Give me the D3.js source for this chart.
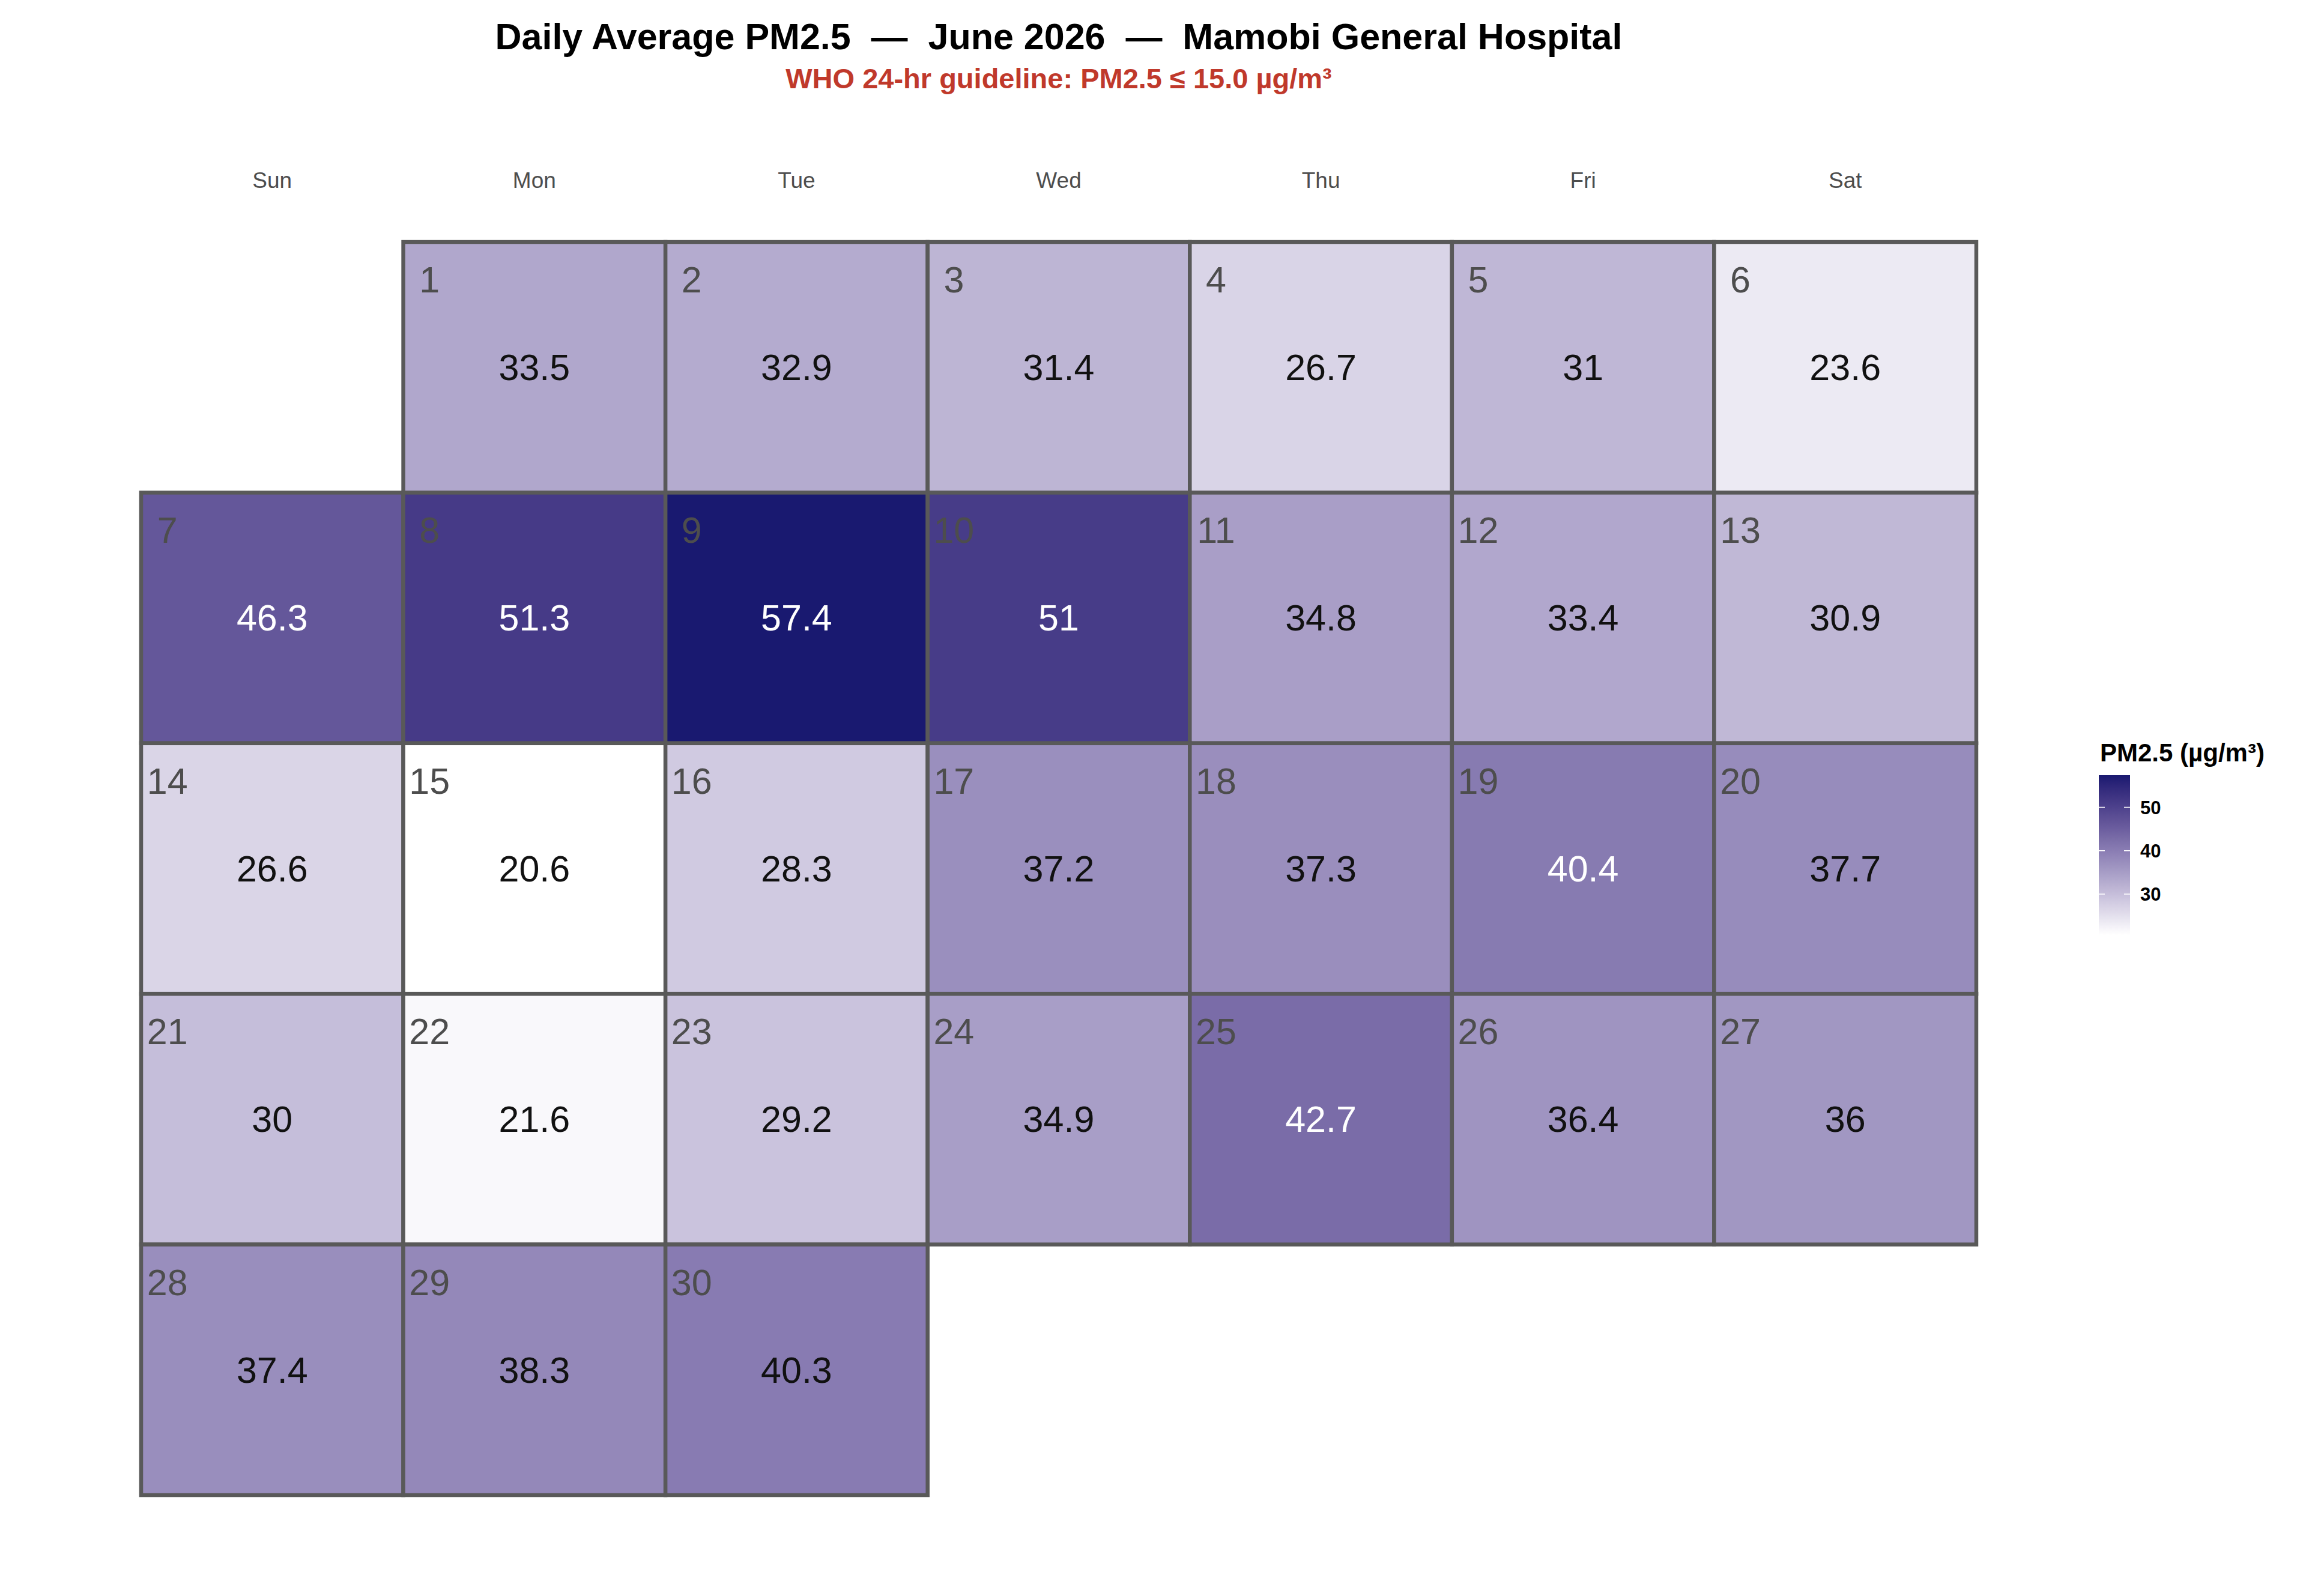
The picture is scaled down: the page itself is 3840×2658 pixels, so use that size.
<!DOCTYPE html>
<html>
<head>
<meta charset="utf-8">
<script src="https://cdn.jsdelivr.net/npm/d3@7"></script>
<style>
  body { margin: 0; background: #fff; }
  text { font-family: "Liberation Sans", Arial, Helvetica, sans-serif; }
</style>
</head>
<body>
<svg id="chart"></svg>
<script>
// June 2026 daily averages, day 1..30
var year = 2026, month = 5;
var pm25 = [33.5, 32.9, 31.4, 26.7, 31.0, 23.6,
            46.3, 51.3, 57.4, 51.0, 34.8, 33.4, 30.9,
            26.6, 20.6, 28.3, 37.2, 37.3, 40.4, 37.7,
            30.0, 21.6, 29.2, 34.9, 42.7, 36.4, 36.0,
            37.4, 38.3, 40.3];
var weekdays = ["Sun", "Mon", "Tue", "Wed", "Thu", "Fri", "Sat"];
var legendTicks = [30, 40, 50];
var whiteTextAbove = 40.35;

var W = 3840, H = 2658;
var svg = d3.select("#chart").attr("width", W).attr("height", H);

var days = pm25.map(function(v, i){
	var date = new Date(year, month, i + 1);
	return {
		day: i + 1,
		value: v,
		dow: weekdays[date.getDay()],
		week: d3.timeWeek.count(d3.timeMonth(date), date)
	};
});
var nWeeks = d3.max(days, function(d){ return d.week; }) + 1;

var x = d3.scaleBand().domain(weekdays).range([235, 3291]);
var y = d3.scaleBand().domain(d3.range(nWeeks)).range([403, 2490]);

var ext = d3.extent(pm25);
var color = d3.scaleSequential()
	.domain(ext)
	.interpolator(d3.interpolateLab("#ffffff", "#191970"));

// titles
var cx = (x.range()[0] + x.range()[1]) / 2;
svg.append("text")
	.attr("x", cx).attr("y", 82)
	.attr("text-anchor", "middle")
	.attr("font-size", 61).attr("font-weight", "bold")
	.style("white-space", "pre")
	.text("Daily Average PM2.5  \u2014  June 2026  \u2014  Mamobi General Hospital");
svg.append("text")
	.attr("x", cx).attr("y", 147)
	.attr("text-anchor", "middle")
	.attr("font-size", 47).attr("font-weight", "bold")
	.attr("fill", "#c0392b")
	.text("WHO 24-hr guideline: PM2.5 \u2264 15.0 \u00b5g/m\u00b3");

// weekday header
var head = svg.append("g")
	.attr("transform", "translate(0,313)")
	.call(d3.axisTop(x).tickSize(0).tickPadding(0));
head.select(".domain").remove();
head.selectAll("text")
	.attr("font-size", 37)
	.attr("font-family", "Liberation Sans, Arial, sans-serif")
	.attr("fill", "#4d4d4d");

// cells
var cell = svg.append("g").selectAll("g")
	.data(days)
	.enter()
	.append("g")
	.attr("transform", function(d){ return "translate(" + x(d.dow) + "," + y(d.week) + ")"; });

cell.append("rect")
	.attr("width", x.bandwidth())
	.attr("height", y.bandwidth())
	.attr("fill", function(d){ return color(d.value); })
	.attr("stroke", "#595959")
	.attr("stroke-width", 6.5);

cell.append("text")
	.attr("x", x.bandwidth() * 0.1)
	.attr("y", y.bandwidth() * 0.15)
	.attr("dy", "0.35em")
	.attr("text-anchor", "middle")
	.attr("font-size", 61)
	.attr("fill", "#4d4d4d")
	.text(function(d){ return d.day; });

cell.append("text")
	.attr("x", x.bandwidth() / 2)
	.attr("y", y.bandwidth() / 2)
	.attr("dy", "0.35em")
	.attr("text-anchor", "middle")
	.attr("font-size", 61)
	.attr("fill", function(d){ return d.value > whiteTextAbove ? "#ffffff" : "#111111"; })
	.text(function(d){ return d3.format("~r")(d.value); });

// legend
var lx = 3495, lw = 52;
var ly = d3.scaleLinear().domain(ext).range([1557, 1291]);

var grad = svg.append("defs").append("linearGradient")
	.attr("id", "pmgrad")
	.attr("x1", 0).attr("y1", 1).attr("x2", 0).attr("y2", 0);
grad.selectAll("stop")
	.data(d3.range(0, 1.0001, 0.05))
	.enter()
	.append("stop")
	.attr("offset", function(t){ return t; })
	.attr("stop-color", function(t){ return color(ext[0] + t * (ext[1] - ext[0])); });

var leg = svg.append("g");
leg.append("text")
	.attr("x", 3497).attr("y", 1268)
	.attr("font-size", 42).attr("font-weight", "bold")
	.text("PM2.5 (\u00b5g/m\u00b3)");
leg.append("rect")
	.attr("x", lx).attr("y", ly.range()[1])
	.attr("width", lw).attr("height", ly.range()[0] - ly.range()[1])
	.attr("fill", "url(#pmgrad)");

var tk = leg.selectAll(".tk").data(legendTicks).enter().append("g")
	.attr("transform", function(d){ return "translate(0," + ly(d) + ")"; });
tk.append("line").attr("x1", lx).attr("x2", lx + 10)
	.attr("stroke", "#fff").attr("stroke-width", 1.5);
tk.append("line").attr("x1", lx + lw - 10).attr("x2", lx + lw)
	.attr("stroke", "#fff").attr("stroke-width", 1.5);
tk.append("text")
	.attr("x", 3564).attr("dy", "0.36em")
	.attr("font-size", 31).attr("font-weight", "bold")
	.text(function(d){ return d; });
</script>
</body>
</html>
